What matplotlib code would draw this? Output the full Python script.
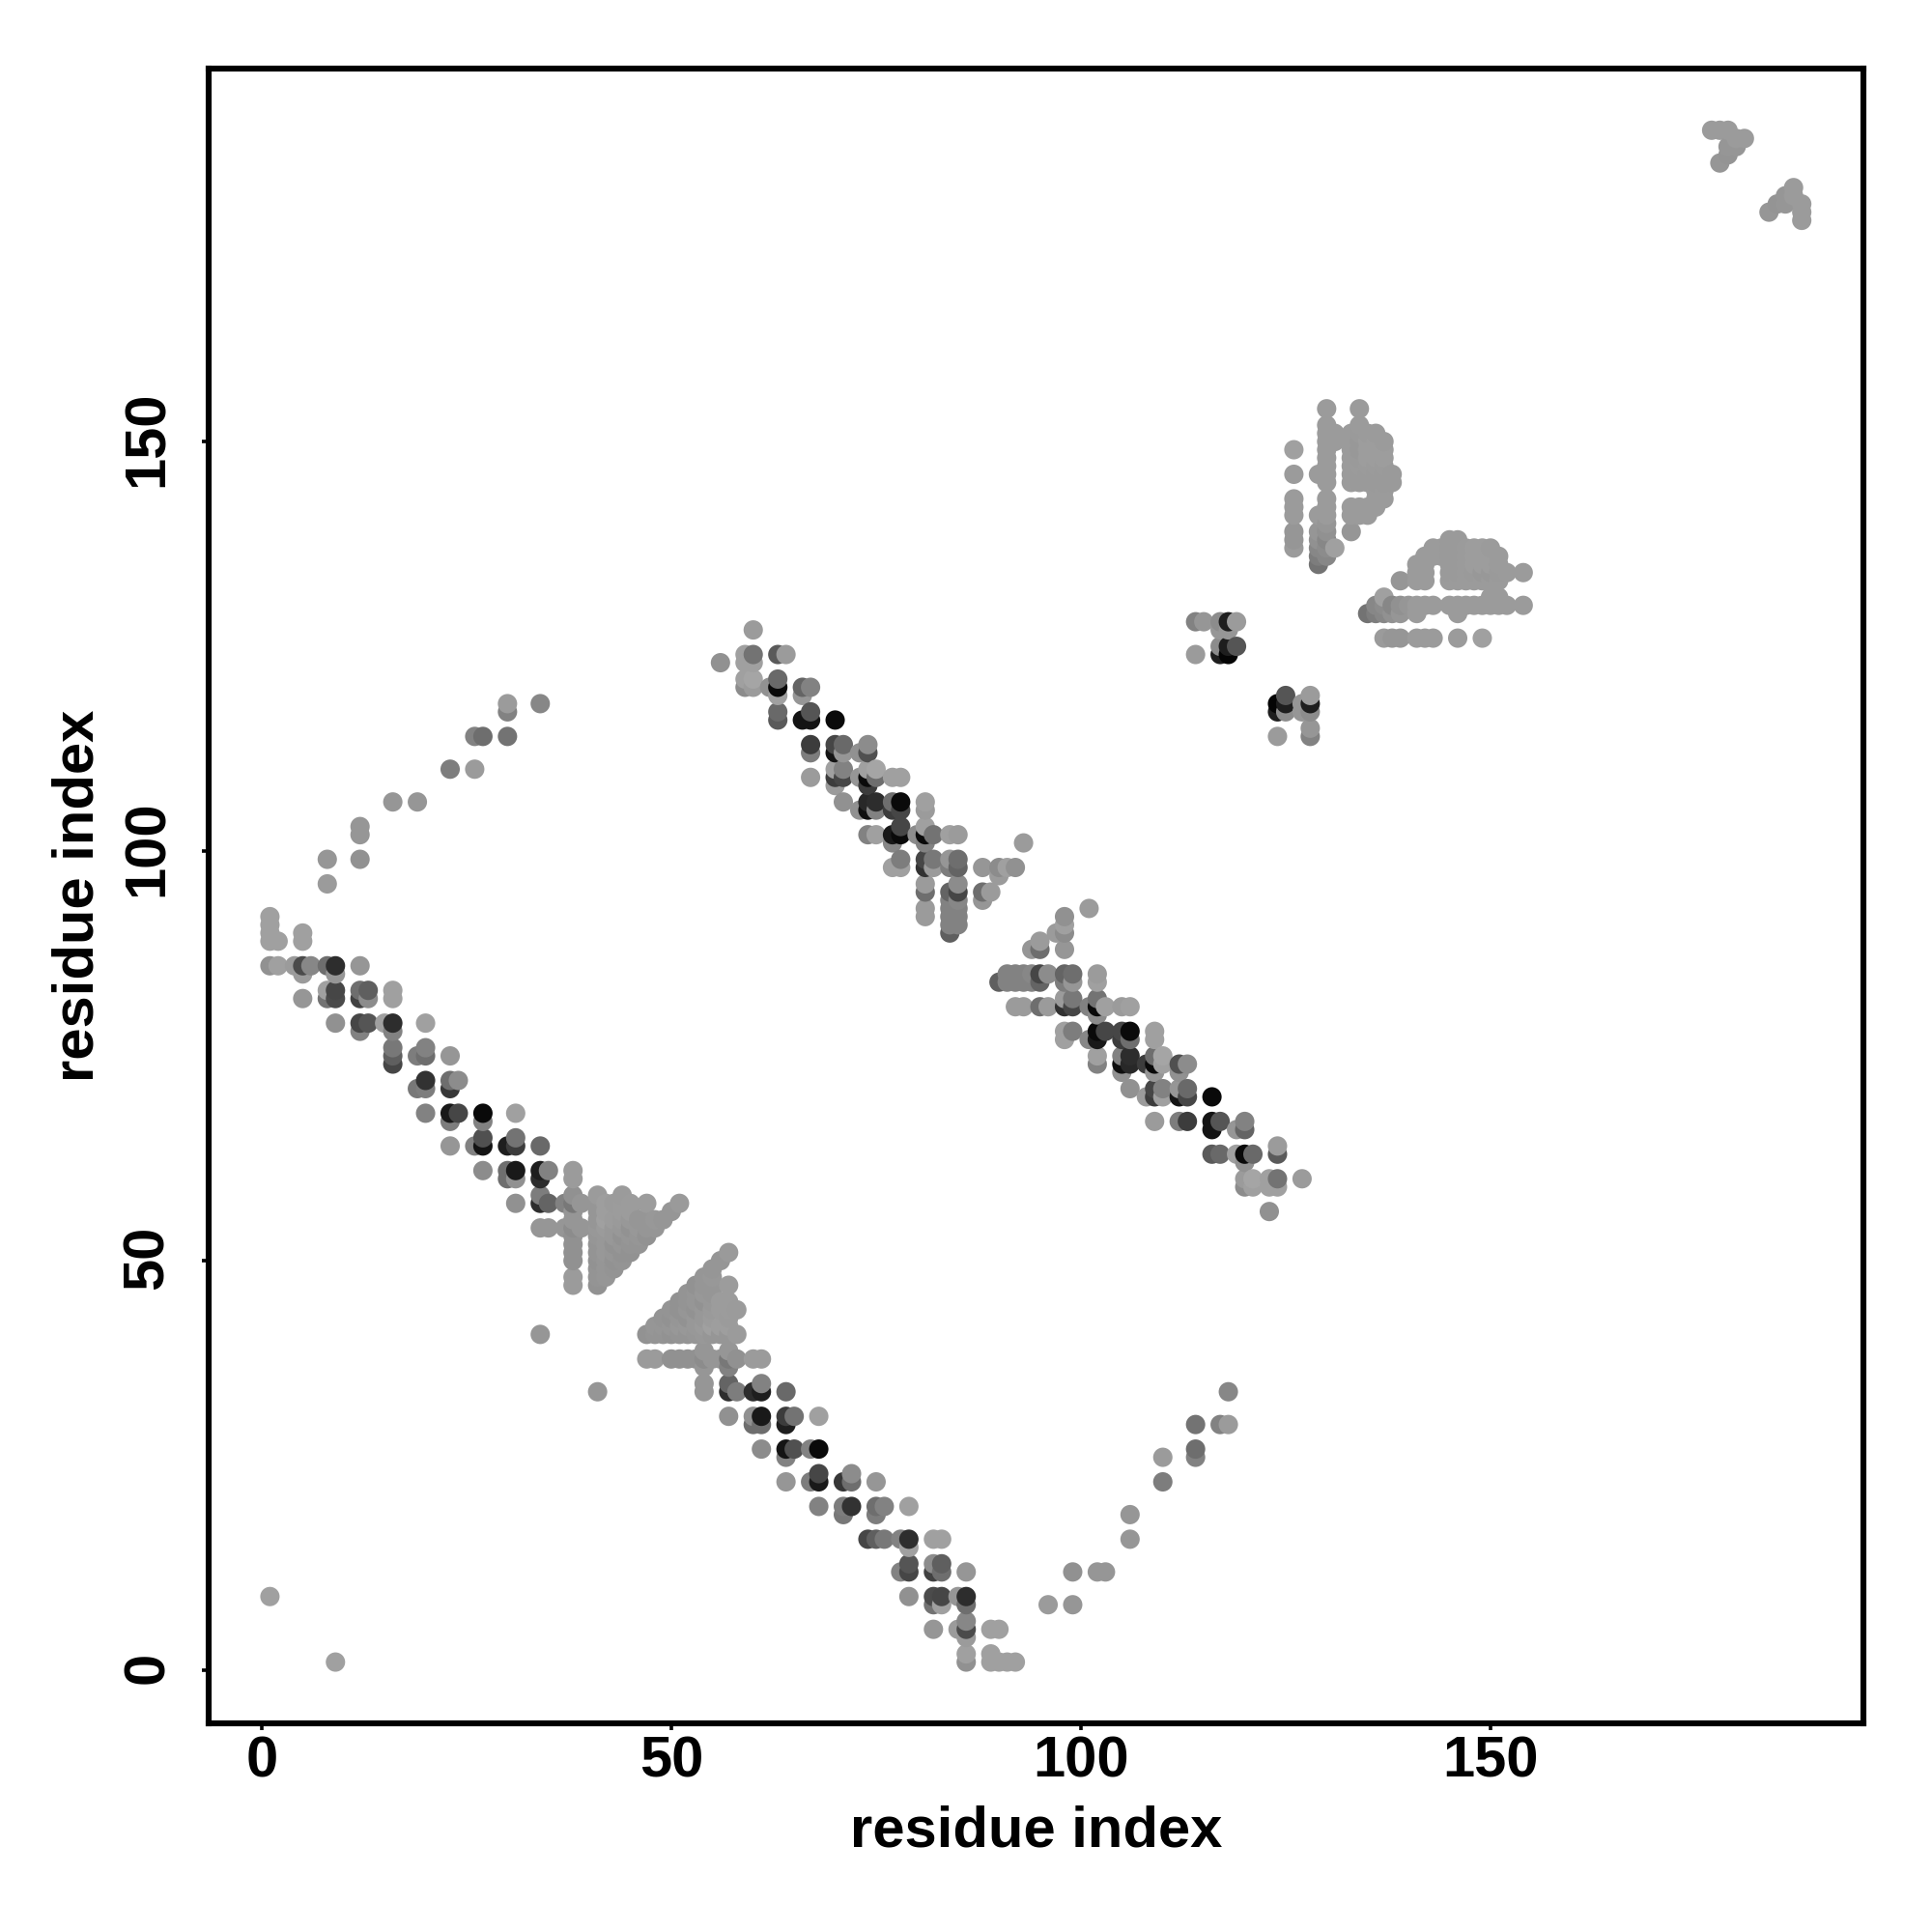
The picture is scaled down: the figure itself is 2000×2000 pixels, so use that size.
import numpy as np
import matplotlib
matplotlib.use("Agg")
import matplotlib.pyplot as plt
from matplotlib.transforms import ScaledTranslation

plt.rcParams['font.family'] = ['Liberation Sans', 'DejaVu Sans']

# (residue i, residue j, grey level) for i < j; the contact map is symmetric
isolated = [(1, 9, 160), (34, 41, 150)]

arc = [(8, 96, 155), (8, 99, 150), (12, 99, 145), (12, 102, 150), (12, 103, 150),
       (16, 106, 150), (19, 106, 150), (23, 110, 125), (26, 110, 155),
       (26, 114, 130), (27, 114, 110), (30, 114, 115), (30, 117, 130),
       (30, 118, 155), (34, 118, 135)]

band_low = [
    (1, 92, 160), (1, 91, 160), (1, 90, 160), (1, 89, 160), (2, 89, 160),
    (5, 90, 160), (5, 89, 160),
    (1, 86, 145), (2, 86, 160), (4, 86, 155), (5, 86, 75), (6, 86, 135),
    (8, 86, 110), (9, 86, 45), (12, 86, 150), (5, 85, 155), (9, 85, 150),
    (8, 83, 160), (9, 83, 70), (12, 83, 110), (13, 83, 95), (16, 83, 160),
    (5, 82, 150), (8, 82, 115), (9, 82, 75), (12, 82, 65), (13, 82, 140), (16, 82, 160),
    (9, 79, 145), (12, 79, 70), (13, 79, 85), (15, 79, 160), (16, 79, 45), (20, 79, 160),
    (12, 78, 130), (16, 78, 130), (16, 76, 120), (20, 76, 130),
    (16, 75, 95), (19, 75, 125), (20, 75, 110), (23, 75, 150), (16, 74, 70),
    (20, 72, 50), (23, 72, 110), (24, 72, 140),
    (19, 71, 120), (20, 71, 125), (23, 71, 55),
    (20, 68, 130), (23, 68, 25), (24, 68, 70), (27, 68, 10), (31, 68, 160),
    (23, 67, 125), (27, 67, 130), (27, 65, 80), (31, 65, 115),
    (23, 64, 150), (26, 64, 130), (27, 64, 20), (30, 64, 30), (31, 64, 60), (34, 64, 105),
    (27, 61, 140), (30, 61, 110), (31, 61, 25), (34, 61, 30), (35, 61, 130), (38, 61, 155),
    (30, 60, 110), (31, 60, 145), (34, 60, 45), (38, 60, 155),
    (34, 58, 125), (38, 58, 145),
    (31, 57, 145), (34, 57, 45), (35, 57, 100), (37, 57, 130), (38, 57, 120), (39, 57, 150),
    (34, 54, 150), (35, 54, 150), (37, 54, 150), (38, 54, 140), (39, 54, 150),
    (38, 56, 150), (38, 55, 150), (38, 53, 145), (38, 52, 145), (38, 51, 145), (38, 50, 145),
    (38, 48, 155), (38, 47, 155),
]

triangle = [
    (41, 47, 146), (41, 48, 148), (41, 49, 148), (41, 50, 146), (41, 51, 148), (41, 52, 148),
    (41, 53, 150), (41, 54, 152), (41, 55, 150), (41, 56, 150), (41, 57, 150), (41, 58, 155),
    (42, 48, 150), (42, 49, 150), (42, 50, 150), (42, 51, 152), (42, 52, 152), (42, 53, 152),
    (42, 54, 155), (42, 55, 160), (42, 56, 158), (42, 57, 158),
    (43, 49, 148), (43, 50, 146), (43, 51, 150), (43, 52, 146), (43, 53, 152), (43, 54, 152),
    (43, 55, 156), (43, 57, 155),
    (44, 50, 148), (44, 51, 146), (44, 52, 150), (44, 53, 146), (44, 54, 152), (44, 55, 154),
    (44, 56, 156), (44, 57, 156), (44, 58, 155),
    (45, 51, 146), (45, 52, 148), (45, 53, 150), (45, 54, 146), (45, 55, 152), (45, 56, 156),
    (45, 57, 156),
    (46, 52, 148), (46, 53, 150), (46, 54, 152), (46, 55, 150),
    (47, 53, 146), (47, 54, 150), (47, 55, 150), (47, 57, 156),
    (48, 54, 150), (48, 55, 152),
    (49, 55, 150), (50, 56, 150), (51, 57, 154),
]

band_high = [
    (60, 127, 155), (59, 124, 160), (60, 124, 115), (63, 124, 90), (64, 124, 155),
    (59, 123, 160), (60, 123, 160), (56, 123, 145),
    (59, 121, 160), (60, 121, 165), (63, 121, 105),
    (59, 120, 140), (60, 120, 155), (62, 120, 145), (63, 120, 10), (66, 120, 100), (67, 120, 130),
    (63, 119, 160), (66, 119, 150),
    (63, 117, 105), (67, 117, 85), (63, 116, 90), (66, 116, 20), (67, 116, 20), (70, 116, 10),
    (67, 113, 60), (70, 113, 70), (71, 113, 105), (74, 113, 140),
    (67, 112, 125), (70, 112, 20), (71, 112, 150), (73, 112, 145), (74, 112, 80),
    (67, 109, 155), (70, 110, 160), (71, 110, 130), (70, 109, 60), (71, 109, 70), (70, 108, 155),
    (73, 109, 150), (74, 110, 160), (74, 109, 10), (75, 110, 165), (75, 109, 110),
    (77, 109, 160), (78, 109, 160), (74, 108, 60),
    (71, 106, 145), (74, 106, 40), (75, 106, 45), (77, 106, 110), (78, 106, 10), (81, 106, 160),
    (73, 105, 145), (74, 105, 15), (75, 105, 130), (77, 105, 60), (78, 105, 70), (81, 105, 155),
    (78, 103, 70), (81, 103, 160),
    (74, 102, 130), (75, 102, 160), (77, 102, 25), (78, 102, 10), (80, 102, 140), (81, 102, 10),
    (82, 102, 115), (84, 102, 160), (85, 102, 155), (77, 101, 135), (81, 101, 130), (93, 101, 155),
    (78, 99, 125), (78, 98, 160), (77, 98, 160), (81, 99, 70), (81, 98, 50), (82, 99, 120), (82, 98, 155),
    (84, 99, 150), (84, 98, 125), (85, 99, 110), (85, 98, 100), (88, 98, 150), (90, 98, 140),
    (91, 98, 160), (92, 98, 145), (90, 97, 155),
    (81, 96, 155), (81, 95, 110), (84, 95, 100), (85, 96, 140), (85, 95, 70),
    (88, 95, 110), (88, 94, 150), (89, 95, 155), (81, 93, 155), (81, 92, 155),
    (84, 94, 130), (84, 93, 130), (84, 92, 130), (84, 91, 130), (84, 90, 95),
    (85, 94, 135), (85, 93, 130), (85, 92, 130), (85, 91, 130),
]

cluster = [
    (114, 128, 130), (115, 128, 150), (117, 128, 140), (118, 128, 30), (119, 128, 155), (118, 127, 150),
    (114, 124, 155), (117, 125, 140), (118, 125, 30), (119, 125, 85), (117, 124, 30), (118, 124, 5),
    (117, 127, 150),
]

blob = [
    (126, 149, 160), (126, 146, 155), (126, 143, 155), (126, 142, 155), (126, 141, 155),
    (126, 139, 150), (126, 138, 150), (126, 137, 155),
    (129, 146, 155), (129, 141, 155), (129, 139, 150), (129, 138, 145), (129, 137, 135),
    (129, 136, 125), (129, 135, 115),
    (130, 154, 155), (130, 152, 155), (130, 151, 155), (130, 150, 155), (130, 149, 155),
    (130, 148, 155), (130, 147, 155), (130, 146, 155), (130, 145, 155), (130, 143, 155),
    (130, 142, 155), (130, 141, 155), (130, 140, 150), (130, 139, 145), (130, 138, 135),
    (130, 137, 140), (130, 136, 135),
    (131, 151, 155), (131, 150, 155), (131, 137, 160),
    (133, 151, 155), (133, 150, 155), (133, 149, 155), (133, 148, 155), (133, 147, 155),
    (133, 146, 155), (133, 145, 155), (133, 142, 155), (133, 141, 155), (133, 139, 150),
    (134, 154, 155), (134, 152, 155), (134, 151, 154), (134, 150, 152), (134, 149, 152),
    (134, 148, 154), (134, 147, 155), (134, 146, 154), (134, 145, 154),
    (134, 142, 155), (134, 141, 155),
    (135, 151, 155), (135, 150, 157), (135, 149, 157), (135, 148, 157), (135, 147, 155),
    (135, 146, 154), (135, 145, 154), (135, 142, 155), (135, 141, 155),
    (136, 151, 155), (136, 150, 157), (136, 149, 157), (136, 148, 157), (136, 147, 155),
    (136, 146, 154), (136, 145, 154), (136, 144, 155), (136, 143, 155), (136, 142, 155),
    (137, 150, 155), (137, 149, 157), (137, 148, 157), (137, 147, 155),
    (137, 146, 154), (137, 145, 154), (137, 144, 155), (137, 143, 155),
    (138, 146, 154), (138, 145, 154),
]

corner = [
    (177, 188, 155), (178, 188, 155), (179, 188, 155), (181, 187, 155), (180, 187, 155),
    (180, 186, 150), (179, 186, 150), (179, 185, 148), (178, 184, 150),
]

x_ticks = [0, 50, 100, 150]
y_ticks = [0, 50, 100, 150]
x_limits = (-6.48, 195.48)
y_limits = (-6.48, 195.48)

half = np.array(isolated + arc + band_low + triangle + band_high + cluster + blob + corner, dtype=float)
x = np.concatenate([half[:, 0], half[:, 1]])
y = np.concatenate([half[:, 1], half[:, 0]])
g = np.concatenate([half[:, 2], half[:, 2]])
order = np.lexsort((y, x))
x, y, g = x[order], y[order], g[order]

fig = plt.figure(figsize=(10, 10), dpi=200)
ax = fig.add_axes([216 / 2000, 1 - 1784 / 2000, 1712.6 / 2000, 1712.6 / 2000])
ax.scatter(x, y, s=52, c=np.repeat(g[:, None] / 255, 3, axis=1), linewidths=0, clip_on=False, zorder=3)
ax.set_xlim(*x_limits)
ax.set_ylim(*y_limits)
ax.set_xticks(x_ticks)
ax.set_yticks(y_ticks)
for s in ax.spines.values():
    s.set_linewidth(2.2)
ax.tick_params(axis='both', length=2.6, width=1.3, labelsize=21.5)
ax.tick_params(axis='x', pad=2.0)
ax.tick_params(axis='y', pad=10)
up = ScaledTranslation(0, 3 / 200, fig.dpi_scale_trans)
for t in ax.get_xticklabels():
    t.set_fontweight('bold')
for t in ax.get_yticklabels():
    t.set_fontweight('bold')
    t.set_rotation(90)
    t.set_va('center')
    t.set_transform(t.get_transform() + up)
ax.set_xlabel('residue index', fontsize=21.5, fontweight='bold')
ax.set_ylabel('residue index', fontsize=21.5, fontweight='bold')
ax.xaxis.set_label_coords(0.5, -0.0495)
ax.yaxis.set_label_coords(-0.063, 0.5)
fig.savefig('out.png', dpi=200)
